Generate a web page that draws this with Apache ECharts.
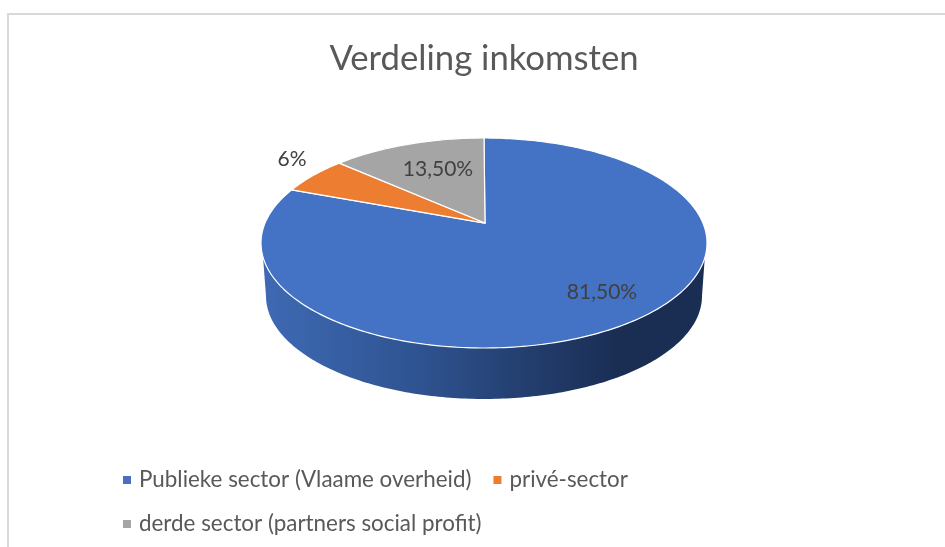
<!DOCTYPE html>
<html>
<head>
<meta charset="utf-8">
<style>html,body{margin:0;padding:0;background:#fff}#c{width:945px;height:547px}</style>
<script src="https://cdn.jsdelivr.net/npm/echarts@6/dist/echarts.min.js"></script>
</head>
<body>
<div id="c"></div>
<script>
const titleText = 'Verdeling inkomsten';
const categories = ['Publieke sector (Vlaame overheid)', 'privé-sector', 'derde sector (partners social profit)'];
const values = [81.5, 6, 13.5];
const valueLabels = ['81,50%', '6%', '13,50%'];
const colors = ['#4472C4', '#ED7D31', '#A5A5A5'];

// layout of the tilted pie
const top3d = {cx: 484, cy: 243, rx: 223, ry: 105, tilt: 0.19};
const bottom3d = {cx: 484, cy: 296, rx: 218, ry: 103};
const labelAnchors = [[602, 292], [292, 159], [438, 169]];
const STEPS = 1.0; // degrees per sampled arc point

const total = values.reduce((a, b) => a + b, 0);

function project(deg) {
  const t = deg * Math.PI / 180, c = top3d.tilt;
  const d = 1 + c * Math.cos(t);
  const X = Math.sin(t) * Math.sqrt(1 - c * c) / d;
  const Y = (Math.cos(t) + c) / d;
  return [top3d.cx + top3d.rx * X, top3d.cy - top3d.ry * Y, Y];
}
const apex = [top3d.cx + 1, top3d.cy - top3d.ry * top3d.tilt];

function renderSlice(index) {
  return function (params, api) {
    const value = api.value(0);
    let startValue = 0;
    for (let i = 0; i < index; i++) startValue += values[i];
    const a0 = startValue / total * 360;
    const a1 = (startValue + value) / total * 360;
    const arc = [];
    const n = Math.max(2, Math.ceil((a1 - a0) / STEPS));
    for (let i = 0; i <= n; i++) arc.push(project(a0 + (a1 - a0) * i / n));

    const children = [];
    const front = arc.filter(p => p[2] < -0.13);
    if (front.length > 2) {
      const pts = front.map(p => [p[0], p[1]]);
      for (let a = 270; a >= 90; a -= STEPS) {
        const r = a * Math.PI / 180;
        pts.push([bottom3d.cx + bottom3d.rx * Math.sin(r), bottom3d.cy - bottom3d.ry * Math.cos(r)]);
      }
      children.push({
        type: 'polygon',
        shape: {points: pts.reverse()},
        style: {
          fill: new echarts.graphic.LinearGradient(0, 0, 1, 0, [
            {offset: 0, color: '#3E6AB4'},
            {offset: 0.35, color: '#2F5391'},
            {offset: 0.62, color: '#223C6B'},
            {offset: 0.8, color: '#1A2E54'},
            {offset: 1, color: '#1A2E54'}
          ]),
          stroke: null
        }
      });
    }
    const top = [apex].concat(arc.map(p => [p[0], p[1]]));
    children.push({
      type: 'polygon',
      shape: {points: top},
      style: {fill: colors[index], stroke: '#fff', lineWidth: 1.2, lineJoin: 'round'}
    });
    return {type: 'group', children};
  };
}

function renderLabel(index) {
  return function () {
    return {
      type: 'text',
      z2: 100,
      style: {
        text: valueLabels[index], x: labelAnchors[index][0], y: labelAnchors[index][1],
        align: 'center', verticalAlign: 'middle',
        fontFamily: 'Lato', fontSize: 21, fill: '#404040'
      }
    };
  };
}

const series = categories.map((name, i) => ({
  type: 'custom', name, coordinateSystem: 'none', silent: true,
  animation: false, z: 2,
  itemStyle: {color: colors[i]},
  renderItem: renderSlice(i),
  data: [[values[i]]]
}));
valueLabels.forEach((l, i) => series.push({
  type: 'custom', coordinateSystem: 'none', silent: true, animation: false, z: 5,
  renderItem: renderLabel(i), data: [[values[i]]]
}));

const chart = echarts.init(document.getElementById('c'), null, {renderer: 'canvas'});
chart.setOption({
  animation: false,
  backgroundColor: '#fff',
  title: {
    text: titleText, left: 479, top: 36, textAlign: 'center',
    textStyle: {fontFamily: 'Lato', fontSize: 34.7, fontWeight: 'normal', color: '#595959'}
  },
  legend: {
    left: 118, top: 464, width: 540, orient: 'horizontal',
    data: categories, icon: 'rect', itemWidth: 8, itemHeight: 8, itemGap: 22,
    selectedMode: false,
    textStyle: {fontFamily: 'Lato', fontSize: 22.4, color: '#595959', lineHeight: 22, padding: [0, 0, 0, 3]}
  },
  graphic: [
    {type: 'rect', shape: {x: 7, y: 13, width: 938, height: 2}, style: {fill: '#D9D9D9'}, silent: true},
    {type: 'rect', shape: {x: 7, y: 13, width: 2, height: 534}, style: {fill: '#D9D9D9'}, silent: true}
  ],
  series
});
</script>
</body>
</html>
